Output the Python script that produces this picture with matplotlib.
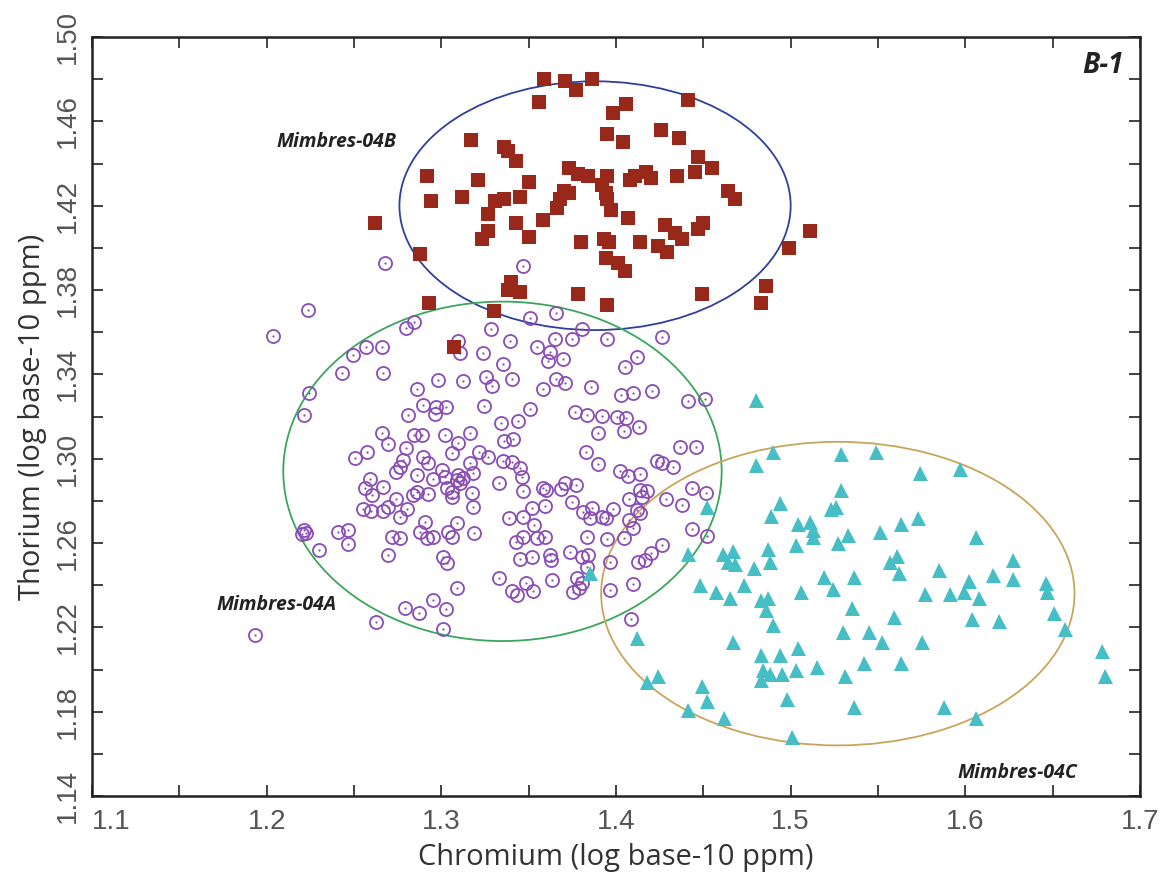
import matplotlib
matplotlib.use("Agg")
import matplotlib.pyplot as plt
from matplotlib.patches import Ellipse
from matplotlib.ticker import MultipleLocator, FixedLocator

# ---- Mimbres-04B (squares) ----
cr_04b = [1.359, 1.371, 1.377, 1.386, 1.356, 1.317, 1.336, 1.338, 1.343, 1.292,
          1.321, 1.350, 1.373, 1.378, 1.384, 1.294, 1.312, 1.331, 1.336, 1.345,
          1.370, 1.373, 1.368, 1.366, 1.327, 1.343, 1.358, 1.327, 1.323, 1.350,
          1.380, 1.262, 1.288, 1.340, 1.338, 1.345, 1.378, 1.293, 1.330, 1.441,
          1.406, 1.398, 1.395, 1.404, 1.426, 1.436, 1.447, 1.455, 1.445, 1.435,
          1.395, 1.392, 1.394, 1.395, 1.397, 1.407, 1.408, 1.411, 1.417, 1.420,
          1.464, 1.468, 1.428, 1.434, 1.438, 1.447, 1.450, 1.393, 1.396, 1.414,
          1.424, 1.429, 1.394, 1.401, 1.405, 1.395, 1.449, 1.486, 1.483, 1.499,
          1.511, 1.307]
th_04b = [1.480, 1.479, 1.475, 1.480, 1.469, 1.451, 1.448, 1.446, 1.441, 1.434,
          1.432, 1.431, 1.438, 1.435, 1.434, 1.422, 1.424, 1.422, 1.423, 1.424,
          1.427, 1.426, 1.423, 1.419, 1.416, 1.412, 1.413, 1.408, 1.404, 1.405,
          1.403, 1.412, 1.397, 1.384, 1.380, 1.379, 1.378, 1.374, 1.370, 1.470,
          1.468, 1.464, 1.454, 1.450, 1.456, 1.452, 1.443, 1.438, 1.436, 1.434,
          1.434, 1.430, 1.426, 1.423, 1.418, 1.414, 1.432, 1.434, 1.436, 1.433,
          1.427, 1.423, 1.411, 1.407, 1.404, 1.409, 1.412, 1.404, 1.403, 1.403,
          1.401, 1.398, 1.395, 1.393, 1.389, 1.373, 1.378, 1.382, 1.374, 1.400,
          1.408, 1.353]

# ---- Mimbres-04A (dotted circles) ----
cr_04a = [1.2675, 1.2239, 1.2038, 1.3467, 1.3507, 1.3656, 1.2796, 1.2842, 1.2566, 1.2492,
          1.2658, 1.2434, 1.2664, 1.2245, 1.2216, 1.3094, 1.3106, 1.3283, 1.3238, 1.3392,
          1.3352, 1.3547, 1.3651, 1.3748, 1.3805, 1.3949, 1.4264, 1.3622, 1.3610, 1.3696,
          1.2979, 1.3123, 1.3255, 1.3289, 1.3404, 1.3582, 1.3656, 1.3708, 1.3857, 1.4052,
          1.4121, 1.4029, 1.4098, 1.4207, 1.4414, 1.4511, 1.2859, 1.2893, 1.2968, 1.3025,
          1.2962, 1.3243, 1.2807, 1.3341, 1.3438, 1.3507, 1.3765, 1.3834, 1.3920, 1.4006,
          1.4058, 1.2658, 1.2692, 1.2842, 1.2888, 1.3020, 1.3163, 1.3094, 1.2796, 1.2572,
          1.2503, 1.2893, 1.3060, 1.3215, 1.3266, 1.3358, 1.3410, 1.3897, 1.4046, 1.4132,
          1.3828, 1.3897, 1.4023, 1.4069, 1.4138, 1.4236, 1.4264, 1.4328, 1.4368, 1.4459,
          1.2922, 1.2779, 1.2761, 1.2738, 1.2859, 1.2951, 1.3002, 1.3020, 1.2589, 1.2561,
          1.2601, 1.2664, 1.2738, 1.2836, 1.2859, 1.2922, 1.3031, 1.3060, 1.3088, 1.2549,
          1.2595, 1.2664, 1.2692, 1.2761, 1.2801, 1.2463, 1.2406, 1.2463, 1.2216, 1.2205,
          1.2228, 1.2302, 1.2715, 1.2761, 1.2692, 1.2876, 1.2905, 1.2916, 1.2951, 1.3037,
          1.3060, 1.3088, 1.3008, 1.3031, 1.3088, 1.2951, 1.2790, 1.2870, 1.3025, 1.2624,
          1.3008, 1.1935, 1.3352, 1.3404, 1.3450, 1.3461, 1.3094, 1.3123, 1.3106, 1.3060,
          1.3174, 1.3180, 1.3329, 1.3467, 1.3582, 1.3599, 1.3708, 1.3771, 1.3685, 1.3593,
          1.3519, 1.3530, 1.3467, 1.3387, 1.3748, 1.4138, 1.4178, 1.4150, 1.4075, 1.3811,
          1.3863, 1.3851, 1.3920, 1.3943, 1.3983, 1.4121, 1.4138, 1.4287, 1.4379, 1.4437,
          1.4517, 1.3186, 1.3427, 1.3467, 1.3547, 1.3593, 1.3450, 1.3519, 1.3622, 1.3628,
          1.3737, 1.3805, 1.3840, 1.3834, 1.3949, 1.4046, 1.4098, 1.3966, 1.4127, 1.4167,
          1.4201, 1.4264, 1.4437, 1.4523, 1.3329, 1.3404, 1.3433, 1.3484, 1.3524, 1.3633,
          1.3754, 1.3788, 1.3805, 1.3777, 1.3834, 1.3966, 1.4098, 1.4087, 1.4075, 1.3163,
          1.3180]
th_04a = [1.3926, 1.3703, 1.3584, 1.3912, 1.3665, 1.3693, 1.3622, 1.3650, 1.3532, 1.3494,
          1.3532, 1.3408, 1.3408, 1.3313, 1.3209, 1.3556, 1.3503, 1.3617, 1.3499, 1.3556,
          1.3451, 1.3532, 1.3570, 1.3570, 1.3617, 1.3570, 1.3575, 1.3508, 1.3461, 1.3475,
          1.3375, 1.3370, 1.3389, 1.3347, 1.3380, 1.3332, 1.3380, 1.3361, 1.3342, 1.3437,
          1.3480, 1.3304, 1.3313, 1.3323, 1.3275, 1.3285, 1.3332, 1.3256, 1.3247, 1.3247,
          1.3214, 1.3252, 1.3209, 1.3171, 1.3180, 1.3237, 1.3223, 1.3209, 1.3204, 1.3199,
          1.3195, 1.3123, 1.3071, 1.3114, 1.3114, 1.3114, 1.3123, 1.3076, 1.3052, 1.3033,
          1.3005, 1.3010, 1.3028, 1.3033, 1.3010, 1.3085, 1.3095, 1.3123, 1.3133, 1.3152,
          1.3033, 1.2976, 1.2943, 1.2919, 1.2929, 1.2990, 1.2981, 1.2962, 1.3057, 1.3057,
          1.2981, 1.2995, 1.2962, 1.2938, 1.2924, 1.2905, 1.2948, 1.2915, 1.2905, 1.2862,
          1.2829, 1.2867, 1.2810, 1.2829, 1.2843, 1.2834, 1.2862, 1.2820, 1.2900, 1.2763,
          1.2753, 1.2753, 1.2772, 1.2725, 1.2763, 1.2663, 1.2653, 1.2596, 1.2663, 1.2644,
          1.2649, 1.2568, 1.2630, 1.2625, 1.2544, 1.2653, 1.2701, 1.2625, 1.2630, 1.2653,
          1.2630, 1.2696, 1.2535, 1.2506, 1.2388, 1.2331, 1.2293, 1.2269, 1.2288, 1.2226,
          1.2193, 1.2164, 1.2990, 1.2986, 1.2957, 1.2915, 1.2924, 1.2910, 1.2886, 1.2843,
          1.2839, 1.2772, 1.2886, 1.2848, 1.2862, 1.2853, 1.2886, 1.2877, 1.2858, 1.2777,
          1.2767, 1.2687, 1.2725, 1.2720, 1.2796, 1.2853, 1.2848, 1.2820, 1.2810, 1.2748,
          1.2767, 1.2720, 1.2725, 1.2720, 1.2763, 1.2758, 1.2744, 1.2810, 1.2782, 1.2862,
          1.2839, 1.2649, 1.2606, 1.2630, 1.2625, 1.2630, 1.2525, 1.2535, 1.2544, 1.2520,
          1.2558, 1.2535, 1.2544, 1.2630, 1.2620, 1.2625, 1.2672, 1.2511, 1.2511, 1.2520,
          1.2554, 1.2592, 1.2668, 1.2634, 1.2435, 1.2373, 1.2354, 1.2411, 1.2373, 1.2426,
          1.2369, 1.2388, 1.2411, 1.2435, 1.2487, 1.2378, 1.2407, 1.2240, 1.2710, 1.2981,
          1.2934]

# ---- Mimbres-04C (triangles) ----
cr_04c = [1.480, 1.490, 1.480, 1.529, 1.549, 1.529, 1.494, 1.489, 1.523, 1.526,
          1.504, 1.511, 1.513, 1.513, 1.533, 1.527, 1.503, 1.551, 1.452, 1.441,
          1.385, 1.461, 1.467, 1.464, 1.468, 1.487, 1.488, 1.479, 1.448, 1.457,
          1.465, 1.473, 1.483, 1.487, 1.486, 1.490, 1.506, 1.519, 1.536, 1.524,
          1.535, 1.530, 1.545, 1.412, 1.467, 1.483, 1.494, 1.504, 1.484, 1.488,
          1.483, 1.495, 1.503, 1.515, 1.531, 1.542, 1.424, 1.418, 1.449, 1.452,
          1.441, 1.462, 1.498, 1.536, 1.501, 1.574, 1.597, 1.573, 1.563, 1.561,
          1.557, 1.562, 1.606, 1.585, 1.577, 1.591, 1.599, 1.602, 1.608, 1.616,
          1.627, 1.627, 1.646, 1.647, 1.651, 1.657, 1.559, 1.604, 1.619, 1.552,
          1.575, 1.563, 1.588, 1.606, 1.678, 1.680]
th_04c = [1.328, 1.303, 1.297, 1.302, 1.303, 1.285, 1.279, 1.273, 1.276, 1.277,
          1.269, 1.270, 1.266, 1.263, 1.264, 1.260, 1.259, 1.265, 1.277, 1.255,
          1.246, 1.255, 1.256, 1.251, 1.250, 1.257, 1.251, 1.248, 1.240, 1.237,
          1.234, 1.240, 1.233, 1.234, 1.228, 1.221, 1.237, 1.244, 1.244, 1.238,
          1.229, 1.218, 1.218, 1.215, 1.213, 1.207, 1.207, 1.210, 1.200, 1.198,
          1.195, 1.198, 1.200, 1.201, 1.197, 1.203, 1.197, 1.194, 1.192, 1.185,
          1.181, 1.177, 1.186, 1.182, 1.168, 1.293, 1.295, 1.272, 1.269, 1.254,
          1.251, 1.246, 1.263, 1.247, 1.236, 1.236, 1.237, 1.242, 1.234, 1.245,
          1.252, 1.243, 1.241, 1.237, 1.227, 1.219, 1.225, 1.224, 1.223, 1.213,
          1.213, 1.203, 1.182, 1.177, 1.209, 1.197]

# ---- group ellipses: centre (Cr, Th), full width, full height ----
ell_04b = (1.388, 1.420, 0.224, 0.118)
ell_04a = (1.335, 1.294, 0.251, 0.161)
ell_04c = (1.527, 1.236, 0.271, 0.144)

x_ticks = [1.1, 1.2, 1.3, 1.4, 1.5, 1.6, 1.7]
y_ticks = [1.14, 1.18, 1.22, 1.26, 1.30, 1.34, 1.38, 1.42, 1.46, 1.50]

fig = plt.figure(figsize=(11.69, 8.88), dpi=100)
ax = fig.add_axes([0.0787, 0.1036, 0.8965, 0.8547])

c_sq = "#98291a"
c_ci = "#8a4db6"
c_tr = "#45bec6"

for (cx, cy, w, h), col in [(ell_04b, "#2f3f9c"), (ell_04a, "#3aa65c"),
                            (ell_04c, "#c9a45c")]:
    ax.add_patch(Ellipse((cx, cy), w, h, fill=False, edgecolor=col,
                         linewidth=1.3, zorder=1))

ax.plot(cr_04a, th_04a, linestyle="none", marker="o", markersize=9.4,
        markerfacecolor="none", markeredgecolor=c_ci, markeredgewidth=1.3, zorder=2)
ax.plot(cr_04a, th_04a, linestyle="none", marker="o", markersize=1.6,
        markerfacecolor=c_ci, markeredgecolor=c_ci, markeredgewidth=0, zorder=2)
ax.plot(cr_04c, th_04c, linestyle="none", marker="^", markersize=10.8,
        markerfacecolor=c_tr, markeredgecolor=c_tr, markeredgewidth=0, zorder=3)
ax.plot(cr_04b, th_04b, linestyle="none", marker="s", markersize=9.8,
        markerfacecolor=c_sq, markeredgecolor=c_sq, markeredgewidth=0, zorder=4)

ax.set_xlim(1.1, 1.7)
ax.set_ylim(1.14, 1.50)
ax.xaxis.set_major_locator(FixedLocator(x_ticks))
ax.xaxis.set_minor_locator(MultipleLocator(0.05))
ax.yaxis.set_major_locator(FixedLocator(y_ticks))
ax.yaxis.set_minor_locator(MultipleLocator(0.02))
ax.set_xticklabels(["%.1f" % v for v in x_ticks])
ax.set_yticklabels(["%.2f" % v for v in y_ticks], rotation=90, va="center")

ax.tick_params(which="both", direction="in", length=8, width=1.2, color="#222222",
               top=True, right=True)
ax.tick_params(axis="x", which="major", pad=9, labelsize=20, labelcolor="#555555")
ax.tick_params(axis="y", which="major", pad=8, labelsize=20, labelcolor="#555555")
for lab in ax.get_xticklabels():
    lab.set_fontfamily("Liberation Sans")
for lab in ax.get_yticklabels():
    lab.set_fontfamily("Liberation Sans")
ax.get_xticklabels()[0].set_horizontalalignment("left")

for s in ax.spines.values():
    s.set_linewidth(1.8)
    s.set_color("#222222")

ax.set_xlabel("Chromium (log base-10 ppm)", fontsize=21, color="#333333",
              family="Open Sans", labelpad=6)
ax.set_ylabel("Thorium (log base-10 ppm)", fontsize=21, color="#333333",
              family="Open Sans", labelpad=6)

lab_kw = dict(fontsize=14, fontweight="bold", fontstyle="italic",
              family="Open Sans", color="#222222", va="center", ha="left")
ax.text(1.2056, 1.450, "Mimbres-04B", **lab_kw)
ax.text(1.1711, 1.2307, "Mimbres-04A", **lab_kw)
ax.text(1.5957, 1.151, "Mimbres-04C", **lab_kw)
ax.text(0.984, 0.962, "B-1", transform=ax.transAxes, fontsize=20,
        fontweight="bold", fontstyle="italic", family="Open Sans",
        color="#222222", ha="right", va="center")

fig.savefig("out.png", dpi=100)
